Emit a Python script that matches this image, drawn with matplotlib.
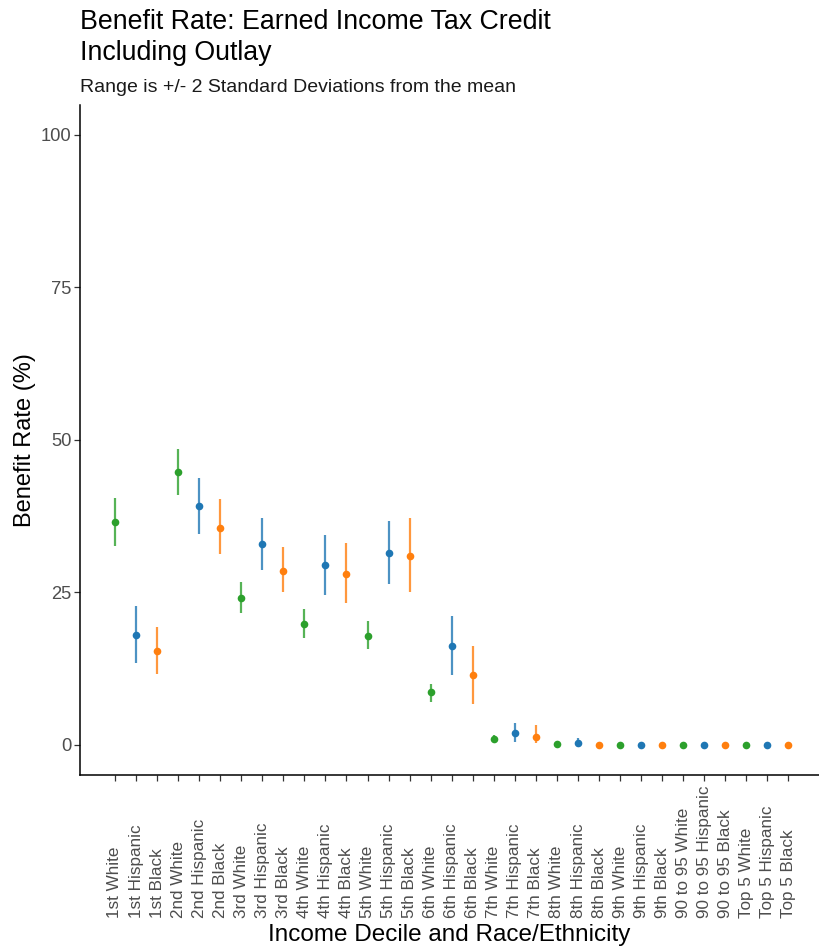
"""Benefit rate of the EITC by income decile and race/ethnicity."""

import matplotlib
matplotlib.use("Agg")
import matplotlib.pyplot as plt

plt.rcParams["font.family"] = ["Liberation Sans", "DejaVu Sans"]

DECILES = ["1st", "2nd", "3rd", "4th", "5th", "6th", "7th", "8th", "9th",
           "90 to 95", "Top 5"]
RACES = ["White", "Hispanic", "Black"]
LABELS = [f"{d} {r}" for d in DECILES for r in RACES]

# mean benefit rate (%) and the +/- 2 SD range, in LABELS order
MEAN = [36.5, 18.0, 15.4,
        44.7, 39.1, 35.5,
        24.0, 32.9, 28.5,
        19.8, 29.5, 27.9,
        17.8, 31.5, 30.9,
        8.6, 16.2, 11.4,
        0.9, 1.9, 1.3,
        0.1, 0.3, 0.0,
        0.0, 0.0, 0.0,
        0.0, 0.0, 0.0,
        0.0, 0.0, 0.0]
LOW = [32.6, 13.4, 11.6,
       41.0, 34.6, 31.2,
       21.5, 28.6, 25.0,
       17.5, 24.5, 23.2,
       15.6, 26.4, 25.0,
       7.0, 11.4, 6.7,
       0.5, 0.4, 0.2,
       0.1, -0.4, 0.0,
       0.0, 0.0, 0.0,
       0.0, 0.0, 0.0,
       0.0, 0.0, 0.0]
HIGH = [40.4, 22.7, 19.3,
        48.5, 43.8, 40.2,
        26.7, 37.2, 32.4,
        22.3, 34.4, 33.0,
        20.2, 36.6, 37.2,
        10.0, 21.1, 16.1,
        1.5, 3.5, 3.2,
        0.1, 1.1, 0.0,
        0.0, 0.0, 0.0,
        0.0, 0.0, 0.0,
        0.0, 0.0, 0.0]

RACE_COLORS = {"White": "#2ca02c", "Hispanic": "#1f77b4", "Black": "#ff7f0e"}


def main() -> None:
    fig = plt.figure(figsize=(8.19, 9.5), dpi=100)
    ax = fig.add_axes([0.0977, 0.1842, 0.9023, 0.7058])

    for i, label in enumerate(LABELS):
        color = RACE_COLORS[label.split()[-1]]
        if HIGH[i] > LOW[i]:
            ax.vlines(i, LOW[i], HIGH[i], color=color, linewidth=1.6,
                      alpha=0.8, zorder=2)
        ax.plot(i, MEAN[i], "o", color=color, markersize=5.5,
                markeredgewidth=0, zorder=3)

    ax.set_xlim(-1.66, len(LABELS) - 1 + 1.45)
    ax.set_ylim(-5, 105)
    ax.set_yticks([0, 25, 50, 75, 100])
    ax.set_xticks(range(len(LABELS)))
    ax.set_xticklabels(LABELS, rotation=90, ha="center", va="bottom")

    for side in ("top", "right"):
        ax.spines[side].set_visible(False)
    for side in ("left", "bottom"):
        ax.spines[side].set_linewidth(1.1)
        ax.spines[side].set_color("black")

    ax.tick_params(axis="y", length=4, width=0.9, color="#333333",
                   labelcolor="#4d4d4d", labelsize=13.2, pad=2)
    ax.tick_params(axis="x", length=4, width=0.9, color="#333333",
                   labelcolor="#4d4d4d", labelsize=12.3, pad=99)

    ax.set_ylabel("Benefit Rate (%)", fontsize=17, labelpad=4)
    ax.set_xlabel("Income Decile and Race/Ethnicity", fontsize=17.5,
                  labelpad=4)

    fig.text(0.0977, 1 - 9 / 950, "Benefit Rate: Earned Income Tax Credit\n"
             "Including Outlay", fontsize=19.3, ha="left", va="top",
             linespacing=1.25)
    fig.text(0.0977, 1 - 92 / 950, "Range is +/- 2 Standard Deviations "
             "from the mean", fontsize=14, ha="left", va="baseline",
             color="#1a1a1a")

    fig.savefig("out.png", dpi=100)
    plt.close(fig)


if __name__ == "__main__":
    main()
